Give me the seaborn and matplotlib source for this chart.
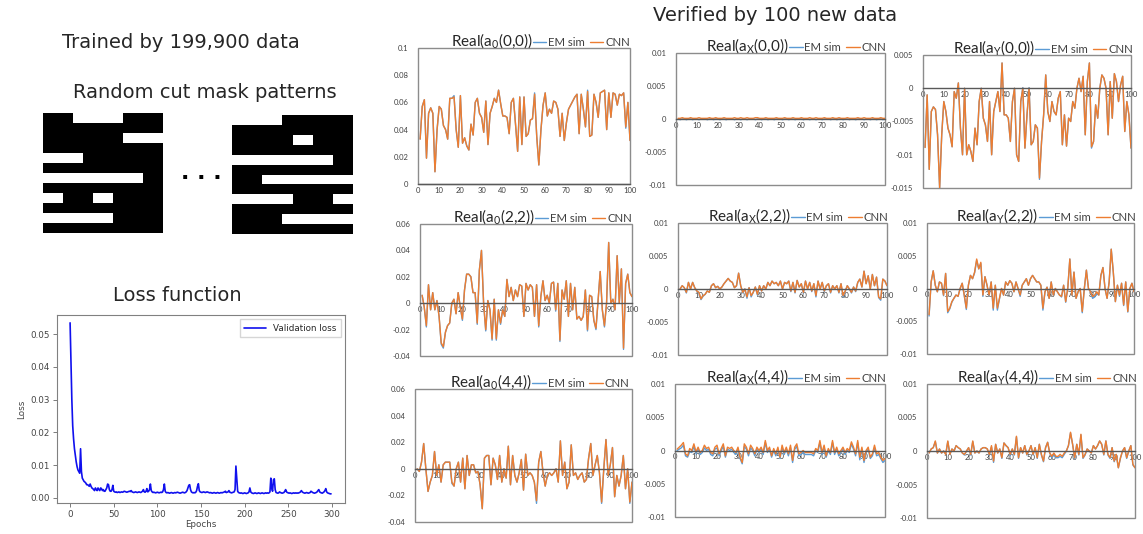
import numpy as np
import matplotlib
matplotlib.use("Agg")
import matplotlib.pyplot as plt
from matplotlib.colors import ListedColormap
from matplotlib.patches import Rectangle
import seaborn as sns

W, H = 1143, 534
EM_BLUE = "#5B9BD5"
CNN_ORANGE = "#ED7D31"

# ---------------------------------------------------------------------------
# data
# ---------------------------------------------------------------------------
# white bars of the two example masks: (row, first col, last col + 1), 12 x 12 grid
mask1_bars = [(0, 3, 8), (2, 8, 12), (4, 0, 4), (6, 0, 10), (8, 0, 2), (8, 5, 7), (10, 0, 7)]
mask2_bars = [(0, 0, 5), (2, 6, 8), (4, 0, 10), (6, 3, 12), (8, 0, 6), (8, 10, 12), (10, 5, 12)]

# validation loss per epoch (x1e-4)
val_loss = [
    535, 410, 300, 220, 180, 150, 130, 110, 95, 85, 80, 75, 150, 80, 60, 55, 50, 48, 45, 40,
    40, 38, 35, 42, 35, 30, 28, 25, 22, 30, 25, 22, 30, 25, 22, 30, 28, 22, 25, 20,
    20, 25, 30, 42, 40, 25, 20, 20, 25, 38, 20, 18, 17, 18, 16, 17, 18, 16, 17, 18,
    17, 18, 20, 19, 18, 17, 18, 19, 20, 19, 22, 18, 17, 16, 17, 18, 17, 16, 17, 18,
    17, 16, 18, 20, 25, 18, 17, 20, 28, 18, 20, 25, 42, 22, 18, 16, 17, 16, 15, 16,
    17, 16, 15, 16, 17, 16, 18, 25, 42, 20, 16, 15, 16, 15, 14, 15, 16, 15, 14, 15,
    16, 15, 16, 17, 16, 15, 14, 15, 16, 17, 16, 15, 16, 18, 22, 30, 38, 40, 25, 18,
    16, 15, 16, 15, 17, 22, 35, 43, 22, 18, 17, 16, 17, 18, 17, 16, 17, 18, 17, 16,
    15, 16, 15, 14, 15, 16, 15, 14, 15, 16, 15, 14, 15, 16, 15, 16, 17, 18, 20, 16,
    17, 18, 22, 17, 16, 15, 16, 17, 18, 25, 97, 60, 20, 16, 15, 14, 15, 14, 13, 14,
    15, 14, 13, 14, 15, 18, 30, 18, 15, 14, 13, 14, 15, 14, 13, 14, 15, 14, 13, 14,
    15, 14, 13, 14, 15, 14, 15, 14, 15, 18, 60, 30, 20, 55, 58, 25, 16, 15, 14, 15,
    18, 16, 15, 14, 15, 16, 20, 25, 18, 16, 15, 14, 15, 14, 13, 14, 15, 14, 15, 14,
    15, 14, 15, 16, 18, 22, 18, 16, 15, 14, 15, 16, 15, 14, 15, 16, 20, 18, 16, 15,
    14, 15, 16, 18, 22, 25, 18, 16, 15, 14, 16, 18, 22, 28, 18, 15, 14, 13, 12, 12,
]

# Real(a0(0,0)), x1e-3
a0_00_cnn = [33, 57, 62, 19, 52, 56, 52, 9, 40, 57, 55, 43, 40, 33, 63, 63, 64, 40, 27, 65,
             30, 34, 28, 25, 44, 36, 60, 63, 52, 49, 38, 61, 29, 52, 57, 63, 60, 69, 59, 50,
             50, 49, 37, 60, 63, 44, 24, 64, 29, 64, 35, 37, 47, 48, 66, 35, 14, 40, 58, 67,
             50, 55, 52, 61, 60, 55, 35, 52, 32, 45, 55, 58, 61, 64, 66, 37, 66, 55, 42, 68,
             35, 36, 66, 60, 49, 67, 68, 69, 40, 67, 49, 67, 66, 58, 66, 65, 67, 42, 60, 32]
a0_00_em = [33, 57, 62, 19, 52, 56, 52, 9, 40, 57, 55, 43, 40, 33, 63, 63, 65, 40, 27, 65,
            30, 34, 28, 25, 44, 36, 60, 63, 52, 49, 38, 61, 29, 52, 57, 63, 60, 69, 59, 50,
            50, 49, 37, 60, 63, 44, 24, 64, 29, 64, 35, 37, 47, 48, 67, 35, 14, 40, 58, 67,
            50, 55, 52, 61, 60, 55, 35, 52, 32, 45, 55, 58, 61, 64, 66, 37, 66, 55, 42, 69,
            35, 36, 66, 60, 49, 67, 68, 69, 40, 67, 49, 67, 66, 58, 66, 65, 67, 41, 60, 32]

# Real(aX(0,0)), x1e-4
ax_00_cnn = [1, 1, 2, 1, 1, 1, 2, 1, 1, 1, 2, 1, 1, 1, 1, 2, 1, 1, 2, 1,
             1, 1, 2, 1, 1, 1, 1, 2, 1, 1, 2, 1, 1, 2, 1, 1, 1, 2, 2, 1,
             1, 1, 2, 1, 1, 1, 1, 2, 1, 1, 1, 2, 1, 1, 1, 2, 1, 1, 1, 2,
             1, 1, 1, 2, 1, 1, 2, 1, 1, 1, 2, 1, 1, 1, 2, 1, 1, 2, 1, 1,
             1, 2, 1, 1, 1, 1, 2, 1, 1, 2, 1, 1, 1, 2, 1, 1, 1, 2, 1, 1]
ax_00_em = [0, -1, 0, 0, -1, 0, 0, -1, 0, 0, -1, 0, 0, 0, -1, 0, 0, -1, 0, 0,
            -1, 0, 0, -1, 0, 0, 0, -1, 0, 0, -1, 0, 0, -1, 0, 0, 0, -1, 0, 0,
            -1, 0, 0, -1, 0, 0, -1, 0, 0, 0, -1, 0, 0, -1, 0, 0, -1, 0, 0, 0,
            -1, 0, 0, -1, 0, 0, -1, 0, 0, -1, 0, 0, 0, -1, 0, 0, -1, 0, 0, -1,
            0, 0, -1, 0, 0, -1, 0, 0, 0, -1, 0, 0, -1, 0, 0, -1, 0, 0, -1, 0]

# Real(aY(0,0)), x1e-4
ay_00_cnn = [-89, -10, -122, -35, -28, -32, -70, -150, -70, -20, -35, -60, -70, -88, -5, -15, 8, -60, -100, 0,
             -100, -85, -95, -110, -60, -85, -20, 0, -45, -55, -80, -20, -100, -35, -20, -5, -35, 38, -40, -40,
             -45, -80, -20, 0, -100, -110, -20, 0, -90, -40, 0, -85, -80, -55, -60, -135, -80, -40, 20, -35,
             -50, -20, -35, -40, -15, -5, -85, -40, -87, -45, -50, -20, -30, 0, 15, -5, 18, -70, 10, 38,
             -88, -80, -25, -45, 0, 20, 15, 0, -70, 10, -45, 22, 10, -20, 5, 18, -65, -20, -40, -90]
ay_00_em = [-89, -10, -122, -35, -28, -32, -70, -150, -70, -20, -35, -60, -70, -88, -5, -15, 8, -60, -100, 0,
            -100, -85, -95, -110, -60, -85, -20, 0, -45, -55, -80, -20, -100, -35, -20, -5, -35, 38, -40, -40,
            -45, -80, -20, 0, -100, -110, -20, 1, -90, -40, 1, -85, -80, -55, -60, -137, -80, -40, 20, -35,
            -50, -20, -35, -40, -15, -5, -85, -40, -87, -45, -50, -20, -30, 0, 15, -5, 18, -70, 10, 38,
            -90, -80, -25, -45, 0, 20, 15, 0, -70, 10, -45, 22, 10, -20, 5, 18, -65, -20, -40, -90]

# Real(a0(2,2)), x1e-3
a0_22_cnn = [6, -3, -17, 14, -5, 8, -5, 2, -10, -30, -33, -22, -17, -15, 0, 3, -8, 8, -3, -12,
             10, 22, 22, 20, 8, 8, -15, 25, 40, 0, -20, 2, -5, -27, 3, -27, -5, -15, -5, -10,
             18, 5, 12, 2, 10, 5, 14, 13, -10, 15, 10, 14, 12, -10, 14, -17, 5, 17, 2, 6,
             0, 15, 16, -5, 15, -28, 10, 3, 17, -10, 15, -5, 12, -12, -10, -13, -10, 10, -20, 6,
             5, -13, -19, 2, 24, -5, -17, 0, 46, 0, 3, -5, 36, 0, 26, -34, 15, 22, 8, 5]
a0_22_em = [6, -3, -18, 14, -5, 8, -5, 2, -10, -31, -34, -22, -17, -15, 0, 3, -8, 8, -3, -13,
            10, 22, 22, 20, 8, 8, -16, 25, 40, 0, -21, 2, -5, -28, 3, -28, -5, -16, -5, -10,
            18, 5, 12, 2, 10, 5, 14, 13, -10, 15, 10, 14, 12, -10, 14, -18, 5, 17, 2, 6,
            0, 15, 16, -6, 15, -29, 10, 3, 17, -10, 15, -5, 12, -12, -10, -13, -10, 10, -21, 6,
            5, -13, -20, 2, 24, -5, -18, 0, 46, 0, 3, -5, 36, 0, 26, -35, 15, 22, 8, 5]

# Real(aX(2,2)), x1e-4
ax_22_cnn = [0, 5, 2, -5, 10, 0, 10, 2, -3, -5, -15, -10, -8, -3, -5, 5, 8, 2, 4, 0,
             3, 8, 12, 16, 12, 10, 2, 5, 24, 5, -5, 0, -12, 2, -10, -5, 3, -8, 5, -3,
             5, 0, 10, 5, 12, 8, 10, 5, 12, 0, 10, 8, 12, -3, 10, -5, 13, 3, 8, -5,
             12, 0, 10, -3, 8, -10, 12, 0, 10, -3, 5, 8, -5, 5, 0, 5, -5, 8, -10, -3,
             5, 0, -5, 3, -3, 10, 15, 3, 27, 8, 20, 0, 22, 5, 18, -12, -15, 15, 12, 5]
ax_22_em = [0, 5, 2, -6, 10, 0, 10, 2, -3, -6, -16, -11, -8, -3, -5, 5, 8, 2, 4, 0,
            3, 8, 12, 16, 12, 10, 2, 5, 24, 5, -6, 0, -14, 2, -12, -5, 3, -9, 5, -3,
            5, 0, 10, 5, 12, 8, 10, 5, 12, 0, 10, 8, 12, -4, 10, -6, 13, 3, 8, -6,
            12, 0, 10, -4, 8, -12, 12, 0, 10, -4, 5, 8, -6, 5, 0, 5, -6, 8, -12, -4,
            5, 0, -6, 3, -4, 10, 15, 3, 27, 8, 20, 0, 22, 5, 18, -13, -17, 15, 12, 5]

# Real(aY(2,2)), x1e-4
ay_22_cnn = [-40, 10, 27, 5, -5, 10, 8, -10, 23, -35, -30, -20, -15, -10, -12, 0, 8, -10, -30, 5,
             20, 15, 25, 45, 30, 40, -10, 18, 5, -10, 10, -30, 5, -30, -15, 0, -10, 10, 5, 12,
             8, -5, 10, 0, -10, 5, 10, 15, 5, 15, 20, 15, 10, 10, 5, -30, -5, 2, -15, 10,
             -10, 0, -5, -10, -12, 5, -20, 0, 45, -10, 25, -15, -5, 0, -35, 0, 28, 0, -5, -12,
             -10, -5, -10, 20, 32, 0, -15, 10, 60, 25, -20, 5, -10, 8, -25, 10, -35, 0, 8, -5]
ay_22_em = [-42, 10, 27, 5, -5, 10, 8, -11, 23, -37, -31, -21, -15, -10, -12, 0, 8, -11, -32, 5,
            20, 15, 24, 43, 30, 38, -12, 18, 5, -11, 10, -33, 5, -33, -16, 0, -10, 10, 5, 12,
            8, -5, 10, 0, -12, 5, 10, 15, 5, 15, 20, 15, 10, 10, 5, -33, -5, 2, -15, 10,
            -10, 0, -5, -10, -13, 5, -21, 0, 45, -10, 25, -15, -5, 0, -37, 0, 28, 0, -5, -15,
            -13, -8, -10, 20, 32, 0, -15, 10, 60, 25, -20, 5, -12, 8, -26, 10, -36, 0, 8, -5]

# Real(a0(4,4)), x1e-3
a0_44_cnn = [0, -2, 5, 19, 0, -17, -10, -5, 13, -5, 3, -10, 3, 5, 5, 5, -10, -13, 0, 5,
             -10, 8, -15, 10, -5, 3, 3, -3, -2, -12, -30, 8, 10, 10, -12, 8, 3, -8, 10, -10,
             0, -7, 17, -12, 10, -5, -10, -3, 7, -16, 11, -5, -3, -5, -10, -24, 5, 13, -3, -13,
             -5, -3, -5, -3, 0, -10, 21, -5, 5, -15, -10, 18, -5, -3, -8, -5, -3, -10, -8, 8,
             19, -5, 3, 10, -3, -25, 0, 22, -5, 3, 16, -21, -5, -13, -5, 10, -15, 0, -25, -10]
a0_44_em = [0, -2, 5, 19, 0, -17, -10, -5, 13, -5, 3, -10, 3, 5, 5, 5, -11, -13, 0, 5,
            -10, 8, -15, 10, -5, 3, 3, -3, -2, -12, -30, 8, 10, 10, -12, 8, 3, -8, 10, -10,
            0, -7, 17, -12, 10, -5, -10, -3, 7, -16, 11, -5, -3, -5, -10, -26, 5, 13, -3, -13,
            -5, -3, -5, -3, 0, -10, 21, -5, 5, -15, -10, 18, -5, -3, -8, -5, -3, -10, -8, 8,
            19, -5, 3, 10, -3, -26, 0, 22, -5, 3, 16, -21, -5, -13, -5, 10, -15, 0, -26, -10]

# Real(aX(4,4)), x1e-4
ax_44_cnn = [2, 5, 8, 12, -5, -8, 3, 0, 10, -2, 5, -3, 0, 8, 3, 5, -3, -5, 5, 8,
             -5, 3, 10, -8, 5, 3, 5, 0, -3, 5, -10, -18, 10, 5, -5, 8, 3, -5, 5, 0,
             5, -3, 15, 0, 5, -8, 3, -5, 5, -10, 8, -3, 5, -5, 8, -15, 5, 10, -5, -3,
             0, -3, -3, -3, -3, -5, 3, 0, 15, -3, 8, -8, 3, -3, 15, -3, 5, -5, 0, 5,
             -3, 3, 0, 13, 5, -5, 15, -10, 5, -15, 0, 5, -10, -5, 8, -5, -3, -10, -15, -12]
ax_44_em = [0, 2, 4, 8, -8, -10, -2, -3, 6, -5, 2, -6, -3, 4, 0, 2, -6, -8, 2, 4,
            -8, 0, 6, -10, 2, 0, 2, -3, -6, 2, -12, -20, 6, 2, -8, 4, 0, -8, 2, -3,
            2, -6, 12, -3, 2, -10, 0, -8, 2, -12, 4, -6, 2, -8, 4, -18, 2, 6, -8, -6,
            -3, -6, -6, -6, -6, -8, 0, -3, 12, -6, 4, -10, 0, -6, 12, -6, 2, -8, -3, 2,
            -6, 0, -3, 10, 2, -8, 12, -14, 2, -18, -3, 2, -12, -8, 4, -8, -6, -12, -18, -15]

# Real(aY(4,4)), x1e-4
ay_44_cnn = [-3, 3, 5, 15, -3, 3, -3, 0, -5, 15, -5, 3, 0, 8, 5, 3, -3, -5, 0, 5,
             -5, 15, -3, 0, -3, 3, 5, 5, 3, -5, 8, -15, 10, -3, 3, -10, 12, 8, 5, -5,
             3, -5, 22, -10, 5, -3, 8, -5, 0, 8, -5, 5, -10, 10, -5, -15, 5, 13, -3, -8,
             -3, -8, -8, -5, -8, -3, 0, 8, 28, 10, -10, 10, -5, 25, -10, -5, 3, 0, -3, 8,
             3, 8, 15, 10, -5, 15, -5, -10, 5, -15, -5, -25, -10, 0, 5, -10, 0, 8, -20, -25]
ay_44_em = [-3, 3, 5, 14, -3, 3, -3, 0, -5, 14, -5, 3, 0, 8, 5, 3, -3, -6, 0, 5,
            -6, 14, -3, 0, -3, 3, 5, 5, 3, -6, 6, -17, 10, -3, 3, -11, 12, 8, 5, -7,
            3, -6, 21, -11, 5, -3, 8, -6, 0, 8, -6, 5, -11, 10, -6, -16, 5, 13, -3, -10,
            -6, -10, -10, -8, -10, -5, 0, 8, 27, 10, -11, 10, -6, 24, -11, -6, 3, 0, -3, 8,
            3, 8, 15, 10, -6, 15, -6, -11, 5, -16, -6, -25, -11, 0, 5, -11, 0, 8, -21, -25]

x_ticks = list(range(0, 101, 10))
a0_00_yticks = [0, 0.02, 0.04, 0.06, 0.08, 0.1]
a0_00_ylabels = ["0", "0.02", "0.04", "0.06", "0.08", "0.1"]
a0_yticks = [-0.04, -0.02, 0, 0.02, 0.04, 0.06]
a0_ylabels = ["-0.04", "-0.02", "0", "0.02", "0.04", "0.06"]
axy_yticks = [-0.01, -0.005, 0, 0.005, 0.01]
axy_ylabels = ["-0.01", "-0.005", "0", "0.005", "0.01"]
ay_00_yticks = [-0.015, -0.01, -0.005, 0, 0.005]
ay_00_ylabels = ["-0.015", "-0.01", "-0.005", "0", "0.005"]

# ---------------------------------------------------------------------------
# style
# ---------------------------------------------------------------------------
sns.set_style("white")
plt.rcParams["font.family"] = ["DejaVu Sans"]
plt.rcParams["mathtext.fontset"] = "custom"
plt.rcParams["mathtext.rm"] = "Lato"
plt.rcParams["mathtext.it"] = "Lato:italic"
plt.rcParams["mathtext.bf"] = "Lato:bold"

fig = plt.figure(figsize=(W / 100, H / 100), dpi=100)


def px_axes(l, t, r, b):
    return fig.add_axes([l / W, 1 - b / H, (r - l) / W, (b - t) / H])


def px_text(x, y, s, **kw):
    fig.text(x / W, 1 - y / H, s, **kw)


# ---------------------------------------------------------------------------
# left: training set + loss
# ---------------------------------------------------------------------------
px_text(181, 48, "Trained by 199,900 data", ha="center", va="baseline", fontsize=14, color="#262626")
px_text(205, 98, "Random cut mask patterns", ha="center", va="baseline", fontsize=14, color="#262626")

mask_cmap = ListedColormap(["black", "white"])
for bars, box in [(mask1_bars, (43, 113, 163, 233)), (mask2_bars, (232, 115, 353, 234))]:
    grid = np.zeros((12, 12))
    for row, c0, c1 in bars:
        grid[row, c0:c1] = 1
    ax = px_axes(*box)
    sns.heatmap(grid, ax=ax, cmap=mask_cmap, vmin=0, vmax=1, cbar=False,
                xticklabels=False, yticklabels=False)

px_text(201, 179, ". . .", ha="center", va="baseline", fontsize=16, fontweight="bold", color="black")

px_text(177, 301, "Loss function", ha="center", va="baseline", fontsize=14, color="#262626")
ax = px_axes(57, 315, 345, 503)
epochs = np.arange(len(val_loss))
sns.lineplot(x=epochs, y=np.array(val_loss) * 1e-4, ax=ax, color="#1010ee", lw=1.2,
             label="Validation loss")
ax.set_xlim(-15, 315)
ax.set_ylim(-0.0016, 0.0559)
ax.set_xticks([0, 50, 100, 150, 200, 250, 300])
ax.set_yticks([0, 0.01, 0.02, 0.03, 0.04, 0.05])
ax.set_yticklabels(["0.00", "0.01", "0.02", "0.03", "0.04", "0.05"])
ax.tick_params(bottom=True, left=True, length=3, width=0.6, color="#666666",
               labelsize=6.3, labelcolor="#444444", pad=2)
ax.set_xlabel("Epochs", fontsize=6.3, color="#444444", labelpad=1)
ax.set_ylabel("Loss", fontsize=6.3, color="#444444", labelpad=3)
for sp in ax.spines.values():
    sp.set_color("#808080")
    sp.set_linewidth(0.8)
ax.legend(loc="upper right", fontsize=6.3, frameon=True, edgecolor="#cccccc",
          fancybox=False, handlelength=2.5, borderpad=0.5)

# ---------------------------------------------------------------------------
# right: 9 verification panels
# ---------------------------------------------------------------------------
px_text(775, 21, "Verified by 100 new data", ha="center", va="baseline", fontsize=14, color="#262626")

panels = [
    ("Real(a$_0$(0,0))", a0_00_cnn, a0_00_em, 1e-3, (418, 48, 630, 184), a0_00_yticks, a0_00_ylabels),
    ("Real(a$_\\mathrm{X}$(0,0))", ax_00_cnn, ax_00_em, 1e-4, (676, 53, 885, 185), axy_yticks, axy_ylabels),
    ("Real(a$_\\mathrm{Y}$(0,0))", ay_00_cnn, ay_00_em, 1e-4, (923, 55, 1131, 188), ay_00_yticks, ay_00_ylabels),
    ("Real(a$_0$(2,2))", a0_22_cnn, a0_22_em, 1e-3, (420, 224, 632, 356), a0_yticks, a0_ylabels),
    ("Real(a$_\\mathrm{X}$(2,2))", ax_22_cnn, ax_22_em, 1e-4, (678, 223, 887, 355), axy_yticks, axy_ylabels),
    ("Real(a$_\\mathrm{Y}$(2,2))", ay_22_cnn, ay_22_em, 1e-4, (927, 223, 1134, 354), axy_yticks, axy_ylabels),
    ("Real(a$_0$(4,4))", a0_44_cnn, a0_44_em, 1e-3, (415, 389, 632, 522), a0_yticks, a0_ylabels),
    ("Real(a$_\\mathrm{X}$(4,4))", ax_44_cnn, ax_44_em, 1e-4, (675, 384, 885, 517), axy_yticks, axy_ylabels),
    ("Real(a$_\\mathrm{Y}$(4,4))", ay_44_cnn, ay_44_em, 1e-4, (927, 384, 1135, 518), axy_yticks, axy_ylabels),
]

for title, cnn, em, scale, box, yticks, ylabels in panels:
    ax = px_axes(*box)
    sns.lineplot(x=np.arange(1, len(em) + 1), y=np.array(em) * scale, ax=ax,
                 color=EM_BLUE, lw=1.0, label="EM sim")
    sns.lineplot(x=np.arange(1, len(cnn) + 1), y=np.array(cnn) * scale, ax=ax,
                 color=CNN_ORANGE, lw=1.0, label="CNN")
    ax.set_xlim(0, 100)
    ax.set_ylim(yticks[0], yticks[-1])
    ax.set_xticks(x_ticks)
    ax.set_xticklabels([str(t) for t in x_ticks])
    ax.set_yticks(yticks)
    ax.set_yticklabels(ylabels)
    for side in ["left", "right", "top"]:
        ax.spines[side].set_visible(False)
    ax.spines["bottom"].set_position(("data", 0))
    ax.spines["bottom"].set_color("#595959")
    ax.spines["bottom"].set_linewidth(1.0)
    ax.add_patch(Rectangle((0, 0), 1, 1, transform=ax.transAxes, fill=False,
                           edgecolor="#8c8c8c", lw=1.0, clip_on=False))
    ax.tick_params(axis="both", length=0, labelsize=5.5, labelcolor="#404040")
    ax.tick_params(axis="x", pad=2)
    ax.tick_params(axis="y", pad=7)
    for lab in ax.get_xticklabels() + ax.get_yticklabels():
        lab.set_family("Lato")
    ax.text(0.54, 1.02, title, transform=ax.transAxes, ha="right", va="baseline",
            fontsize=11, family="Lato", color="#262626")
    leg = ax.legend(loc="lower left", bbox_to_anchor=(0.535, 0.99), ncol=2, frameon=False,
                    handlelength=1.2, handletextpad=0.15, columnspacing=0.45,
                    borderaxespad=0, borderpad=0.1, prop={"family": "Lato", "size": 8.2})
    for txt in leg.get_texts():
        txt.set_color("#404040")

fig.savefig("out.png", dpi=100, facecolor="white")
